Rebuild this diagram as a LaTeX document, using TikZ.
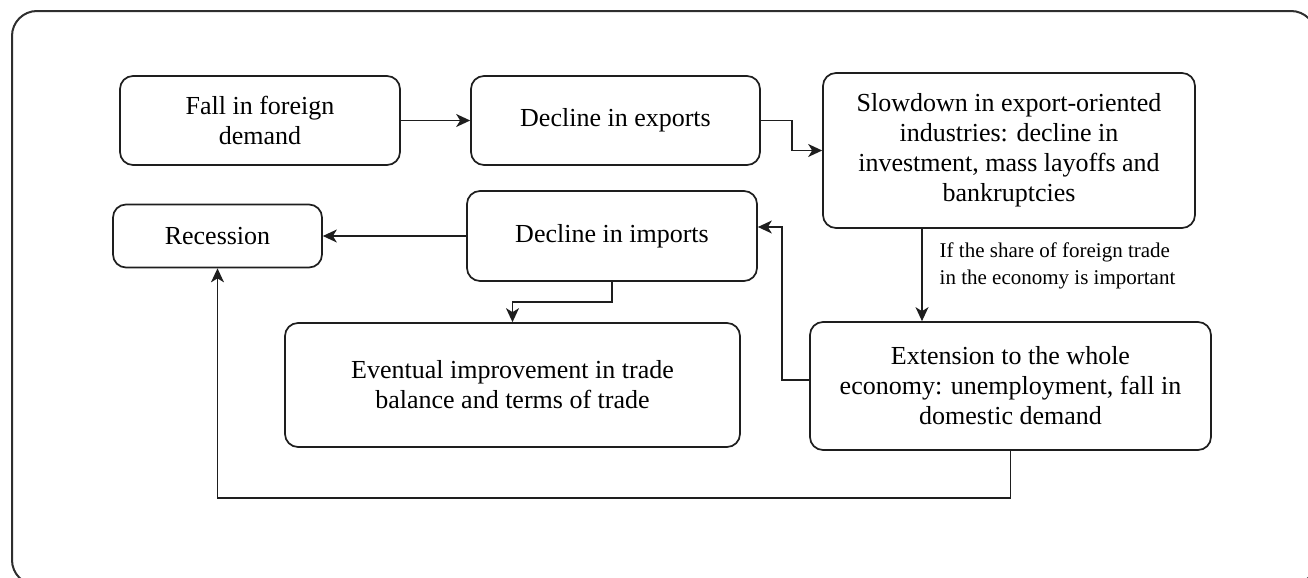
\documentclass[tikz,border=0pt]{standalone}
\usepackage{fontspec}
\setmainfont{Liberation Serif}
\usetikzlibrary{arrows.meta,shapes}
\definecolor{linegray}{HTML}{1E1E1E}
\definecolor{framegray}{HTML}{2E2E2E}

\begin{document}
\begin{tikzpicture}[x=0.5pt,y=-0.5pt,
box/.style={
rectangle,
rounded corners=6.5pt,
draw=linegray,
line width=0.85pt,
align=center,
inner sep=0pt,
font=\fontsize{13}{15}\selectfont
},
link/.style={
draw=linegray,
line width=0.7pt,
-{Stealth[length=7pt,width=6.5pt,inset=2pt]}
}]
\useasboundingbox (0,0) rectangle (1308,578);
\clip (0,0) rectangle (1308,578);
\draw[framegray, line width=1pt, rounded corners=12.5pt] (12,11) rectangle (1316,585);

\node (fall) [box, minimum width=140pt, minimum height=44.5pt] at (260,120.5) {Fall in foreign\\demand};
\node (exports) [box, right of = fall, node distance=177.75pt, minimum width=144.5pt, minimum height=44.5pt] {Decline in exports};
\node (slowdown) [box, minimum width=186pt, minimum height=77.5pt] at (1009,150.5) {Slowdown in export-oriented\\industries: decline in\\investment, mass layoffs and\\bankruptcies};
\node (imports) [box, below of = exports, node distance=57.75pt, xshift=-1.75pt, minimum width=145pt, minimum height=45pt] {Decline in imports};
\node (recession) [box, left of = imports, node distance=197.25pt, minimum width=104.5pt, minimum height=31.5pt] {Recession};
\node (eventual) [box, minimum width=227.5pt, minimum height=62pt] at (512.5,385) {Eventual improvement in trade\\balance and terms of trade};
\node (extension) [box, below of = slowdown, node distance=117.75pt, xshift=0.75pt, minimum width=200.5pt, minimum height=64pt] {Extension to the whole\\economy: unemployment, fall in\\domestic demand};

\draw[link] (fall) -- (exports);
\draw[link] (exports.east) -- ++(15.5pt,0) |- (slowdown.west);
\draw[link] ([xshift=-43.5pt]slowdown.south) -- ([xshift=-43.5pt]slowdown.south |- extension.north)
  node[pos=0.4, anchor=west, xshift=8.5pt, inner sep=0pt, align=left, font=\fontsize{10.5}{13.5}\selectfont] (condition) {If the share of foreign trade\\in the economy is important};
\draw[link] ([yshift=3pt]extension.west) -- ++(-13.5pt,0) |- ([yshift=4.5pt]imports.east);
\draw[link] (imports) -- (recession);
\draw[link] (imports.south) -- ++(0,-10pt) -| (eventual.north);
\draw[link] (extension.south) -- ++(0,-23.5pt) -| (recession.south);
\end{tikzpicture}
\end{document}
